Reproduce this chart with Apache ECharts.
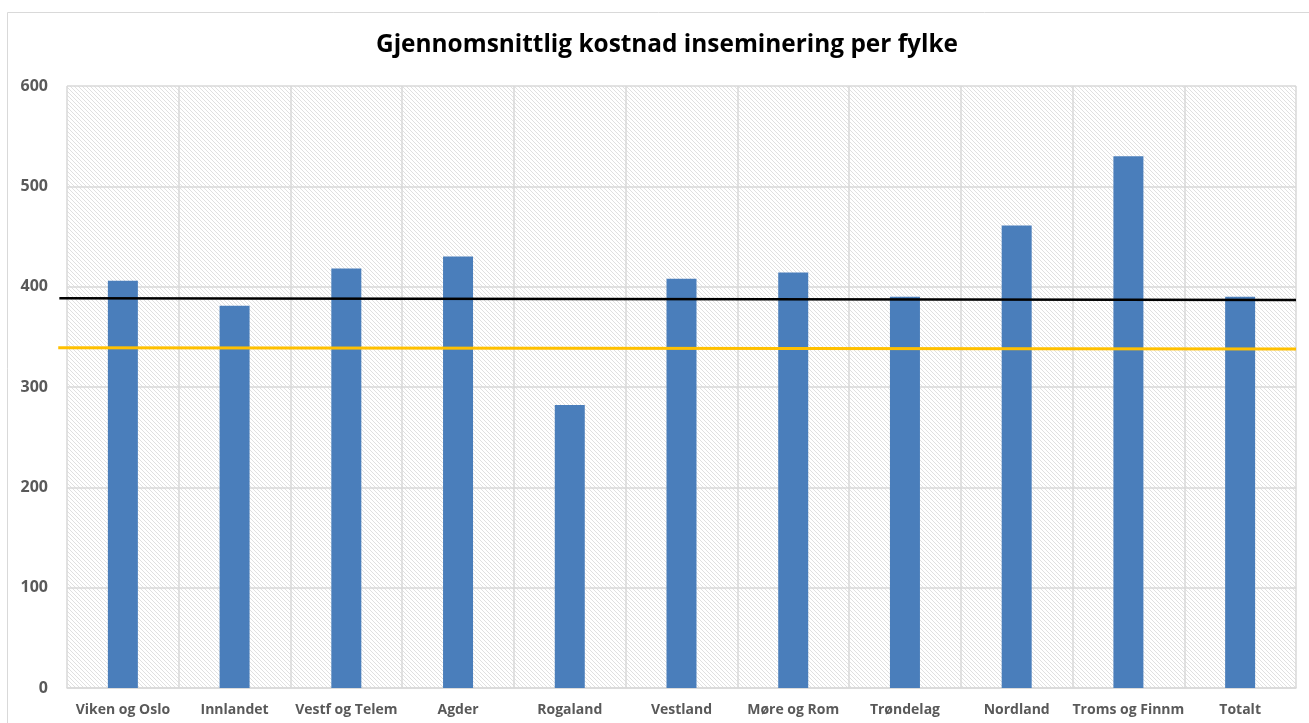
<!DOCTYPE html>
<html>
<head>
<meta charset="utf-8">
<script src="https://cdn.jsdelivr.net/npm/echarts@6/dist/echarts.min.js"></script>
<style>
html,body{margin:0;padding:0;background:#fff;}
#c{width:1309px;height:723px;}
</style>
</head>
<body>
<div id="c"></div>
<script>
const categories = ['Viken og Oslo','Innlandet','Vestf og Telem','Agder','Rogaland','Vestland','Møre og Rom','Trøndelag','Nordland','Troms og Finnm','Totalt'];
const values = [406, 381, 418, 430, 282, 408, 414, 390, 461, 530, 390];
const yTicks = [0, 100, 200, 300, 400, 500, 600];
const blackLine = [388.4, 386.7];
const yellowLine = [339.2, 337.9];

// hatch pattern
const tile = document.createElement('canvas');
tile.width = 4; tile.height = 4;
const tctx = tile.getContext('2d');
tctx.fillStyle = '#ffffff';
tctx.fillRect(0,0,4,4);
tctx.fillStyle = '#e0e0e0';
for (let i = 0; i < 4; i++) tctx.fillRect(i, i, 1, 1);

const chart = echarts.init(document.getElementById('c'), null, {renderer:'canvas'});
const font = 'Open Sans';
chart.setOption({
  animation: false,
  backgroundColor: '#fff',
  title: {
    text: 'Gjennomsnittlig kostnad inseminering per fylke',
    left: 371, top: 28,
    textStyle: {fontFamily: font, fontWeight: 'bold', fontSize: 24.4, color: '#000'}
  },
  graphic: [{
    type: 'rect', shape: {x: 7.5, y: 12.5, width: 1320, height: 730},
    style: {fill: 'none', stroke: '#d9d9d9', lineWidth: 1}, silent: true, z: -10
  }],
  grid: [
    {left: 67, right: 13, top: 86, bottom: 35, show: true,
     backgroundColor: {image: tile, repeat: 'repeat'}, borderWidth: 0},
    {left: 56, right: 13, top: 86, bottom: 35, show: false}
  ],
  xAxis: [
    {type: 'category', gridIndex: 0, data: categories,
     axisLine: {show: true, lineStyle: {color: '#d9d9d9', width: 1.5}},
     axisTick: {show: false},
     splitLine: {show: true, interval: 0, lineStyle: {color: '#d9d9d9', width: 1.5}},
     axisLabel: {interval: 0, margin: 15, fontFamily: font, fontWeight: 'bold', fontSize: 14, color: '#595959'}},
    {type: 'value', gridIndex: 1, min: -0.1, max: 11, show: false}
  ],
  yAxis: [
    {type: 'value', gridIndex: 0, min: yTicks[0], max: yTicks[yTicks.length-1], interval: 100,
     axisLine: {show: false}, axisTick: {show: false},
     splitLine: {show: true, lineStyle: {color: '#d9d9d9', width: 1.5}},
     axisLabel: {margin: 19, fontFamily: font, fontWeight: 'bold', fontSize: 16, color: '#595959'}},
    {type: 'value', gridIndex: 1, min: yTicks[0], max: yTicks[yTicks.length-1], show: false}
  ],
  series: [
    {type: 'bar', xAxisIndex: 0, yAxisIndex: 0, data: values, barWidth: 30,
     itemStyle: {color: '#4a7ebb'}, z: 2},
    {type: 'line', xAxisIndex: 1, yAxisIndex: 1, symbol: 'none',
     data: [[-0.08, yellowLine[0]], [11, yellowLine[1]]],
     lineStyle: {color: '#ffc000', width: 3}, z: 3},
    {type: 'line', xAxisIndex: 1, yAxisIndex: 1, symbol: 'none',
     data: [[-0.07, blackLine[0]], [11, blackLine[1]]],
     lineStyle: {color: '#000000', width: 2.5}, z: 4}
  ]
});
</script>
</body>
</html>
